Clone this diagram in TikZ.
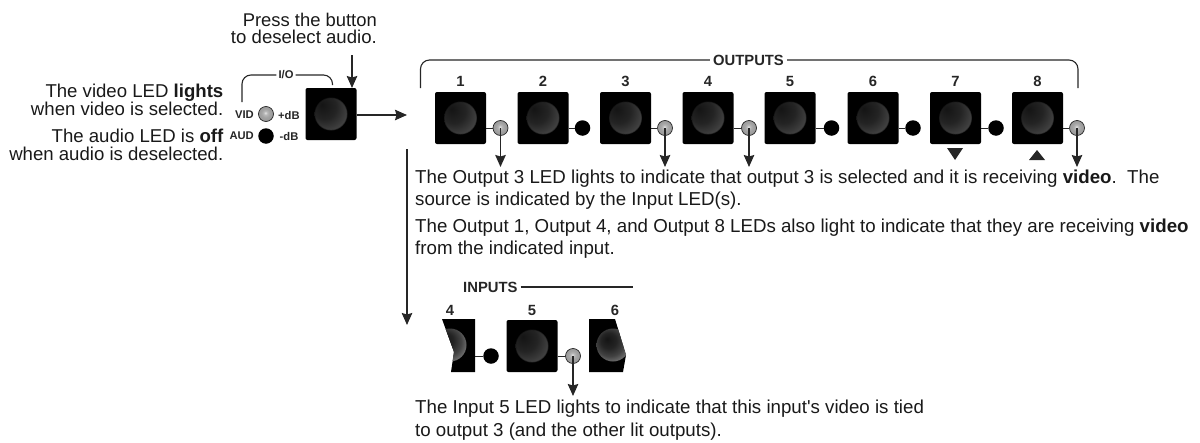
\documentclass[tikz,border=0pt]{standalone}
\usepackage{fontspec}
\setmainfont{Liberation Sans}
\usetikzlibrary{arrows.meta, positioning, calc}

\pgfdeclareradialshading{btnglow}{\pgfpoint{-9bp}{9bp}}{
  color(0bp)=(black!92); color(12bp)=(black!86); color(22bp)=(black!74);
  color(30bp)=(black!56); color(37bp)=(black!40); color(50bp)=(black!40)}
\pgfdeclareradialshading{ledglow}{\pgfpoint{-2bp}{4bp}}{
  color(0bp)=(black!10); color(6bp)=(black!28); color(14bp)=(black!36);
  color(25bp)=(black!40); color(50bp)=(black!40)}

\begin{document}
\begin{tikzpicture}[
  x=1pt, y=-1pt,
  txt/.style={font=\fontsize{18.6}{17.5}\selectfont, inner sep=0pt, text=black!90},
  para/.style={font=\fontsize{18.7}{22}\selectfont, inner sep=0pt, align=left, anchor=north west, text=black!90},
  lbl/.style={font=\fontsize{14.8}{16}\selectfont\bfseries, inner sep=0pt, text=black!85},
  tiny/.style={font=\fontsize{11.2}{12}\selectfont\bfseries, inner sep=0pt, text=black!85},
  btn/.style={fill=black, rounded corners=2pt, minimum width=51pt, minimum height=52pt,
              inner sep=0pt, path picture={
                \shade[shading=btnglow] (path picture bounding box.center) circle (16.5);
                \draw[black, opacity=0.4, line width=1.2pt] (path picture bounding box.center) circle (16.5);}},
  ledon/.style={circle, draw=black!85, line width=0.7pt, minimum size=15pt, inner sep=0pt, shading=ledglow},
  ledoff/.style={circle, fill=black, minimum size=15.5pt, inner sep=0pt},
  msg/.style={-{Stealth[length=12pt, width=10.5pt, inset=1.5pt]}, line width=1.4pt, black!85},
  stub/.style={line width=1pt, black!85},
  brace/.style={line width=1.1pt, black!85, rounded corners=9pt}
]
\useasboundingbox (0,0) rectangle (1200,442);

%% Audio/video selection
\node[txt, align=right, anchor=east] (press)  at (377,28.5) {\fontsize{18.4}{24}\selectfont Press the button\\to deselect audio.};
\node[txt, align=right, anchor=east] (vidtxt) at (223.5,99.7) {The video LED \textbf{lights}\\when video is selected.};
\node[txt, align=right, anchor=east] (audtxt) at (223.5,145) {The audio LED is \textbf{off}\\when audio is deselected.};
\node[btn] (iobtn) at (331,114) {};
\node[ledon]  (vid) at (266,114) {};
\node[ledoff] (aud) at (266,136) {};
\node[tiny, anchor=east] (vidl) at (254,115) {VID};
\node[tiny, anchor=east] (audl) at (254,136) {AUD};
\node[tiny, anchor=west] (pdb)  at (278,115.5) {+dB};
\node[tiny, anchor=west] (mdb)  at (279.5,136) {-dB};
\node[tiny, fill=white, inner xsep=2pt] (io) at (286,75) {I/O};

%% I/O bracket
\coordinate (iol) at (242,102);
\coordinate (ior) at (332.5,85);
\draw[brace] (iol) |- (io.west);
\draw[brace] (io.east) -| (ior);

%% Arrows of the selection
\coordinate (presstip) at (352,88);
\coordinate (outtip)   at (407,115);
\coordinate (downtop)  at (407,149);
\coordinate (downtip)  at (407,325);
\draw[msg] (352,55) -- (presstip);
\draw[msg] (iobtn.east |- outtip) -- (outtip);
\draw[msg] (downtop) -- (downtip);

%% Output buttons
\node[btn] (b1) at (460.5,118) {};
\node[btn] (b2) at (543,118) {};
\node[btn] (b3) at (625.5,118) {};
\node[btn] (b4) at (708,118) {};
\node[btn] (b5) at (790,118) {};
\node[btn] (b6) at (873,118) {};
\node[btn] (b7) at (955.5,118) {};
\node[btn] (b8) at (1037.5,118) {};

%% Output numbers
\node[lbl] (n1) at (460.5,81) {1};
\node[lbl] (n2) at (543,81) {2};
\node[lbl] (n3) at (625.5,81) {3};
\node[lbl] (n4) at (708,81) {4};
\node[lbl] (n5) at (790,81) {5};
\node[lbl] (n6) at (873,81) {6};
\node[lbl] (n7) at (955.5,81) {7};
\node[lbl] (n8) at (1037.5,81) {8};

%% Output LEDs
\node[ledon]  (l1) at (500.5,128) {};
\node[ledoff] (l2) at (582.5,128) {};
\node[ledon]  (l3) at (665,128) {};
\node[ledon]  (l4) at (749,128) {};
\node[ledoff] (l5) at (831.5,128) {};
\node[ledoff] (l6) at (913,128) {};
\node[ledoff] (l7) at (996,128) {};
\node[ledon]  (l8) at (1077,128) {};
\draw[stub] (l1 -| b1.east) -- (l1.west);
\draw[stub] (l2 -| b2.east) -- (l2.west);
\draw[stub] (l3 -| b3.east) -- (l3.west);
\draw[stub] (l4 -| b4.east) -- (l4.west);
\draw[stub] (l5 -| b5.east) -- (l5.west);
\draw[stub] (l6 -| b6.east) -- (l6.west);
\draw[stub] (l7 -| b7.east) -- (l7.west);
\draw[stub] (l8 -| b8.east) -- (l8.west);

%% Lit outputs point at the text
\draw[msg] (l1.center) -- (500.5,167);
\draw[msg] (l3.center) -- (665,167);
\draw[msg] (l4.center) -- (749,167);
\draw[msg] (l8.center) -- (1077,167);

%% Outputs bracket
\node[lbl, fill=white, inner xsep=3pt] (outs) at (748.5,60) {OUTPUTS};
\coordinate (outl) at (420.5,88);
\coordinate (outr) at (1078,88);
\draw[brace] (outl) |- (outs.west);
\draw[brace] (outs.east) -| (outr);

%% Volume marks
\fill[black!85] (947,148) -- (963,148) -- (955,160) -- cycle;
\fill[black!85] (1029,160) -- (1045,160) -- (1037,150) -- cycle;

%% Explanations
\node[para] (t1) at (415,169.5) {The Output 3 LED lights to indicate that output 3 is selected and it is receiving \textbf{video}.\ \ The\\source is indicated by the Input LED(s).};
\node[para] (t2) at (415,218.5) {The Output 1, Output 4, and Output 8 LEDs also light to indicate that they are receiving \textbf{video}\\from the indicated input.};
\node[para, font=\fontsize{18.7}{23.5}\selectfont] (t3) at (415,399.5) {The Input 5 LED lights to indicate that this input\textquotesingle s video is tied\\to output 3 (and the other lit outputs).};

%% Inputs
\node[lbl, anchor=west] (ins) at (463,287) {INPUTS};
\coordinate (insr) at (633,287);
\draw[line width=1.1pt, black!85] (ins.east)+(3,0) -- (insr);
\node[btn] (in5) at (532,346) {};
\fill[black] (442,319) -- (475,319) -- (475,372) -- (451,372) -- (454,352) -- cycle;
\begin{scope}
  \clip (442,319) -- (475,319) -- (475,372) -- (451,372) -- (454,352) -- cycle;
  \shade[shading=btnglow] (450,345) circle (16.5);
\end{scope}
\fill[black] (615,319) -- (626,355) -- (623,372) -- (589,372) -- (589,319) -- cycle;
\begin{scope}
  \clip (615,319) -- (626,355) -- (623,372) -- (589,372) -- (589,319) -- cycle;
  \shade[shading=btnglow] (613,345) circle (16.5);
\end{scope}
\node[lbl] (n4i) at (450,310) {4};
\node[lbl] (n5i) at (532,310) {5};
\node[lbl] (n6i) at (615,310) {6};
\node[ledoff] (l4i) at (491,356) {};
\node[ledon]  (l5i) at (573,356) {};
\draw[stub] (475,356) -- (l4i.west);
\draw[stub] (l5i -| in5.east) -- (l5i.west);
\draw[msg] (l5i.center) -- (573,396);

\end{tikzpicture}
\end{document}
